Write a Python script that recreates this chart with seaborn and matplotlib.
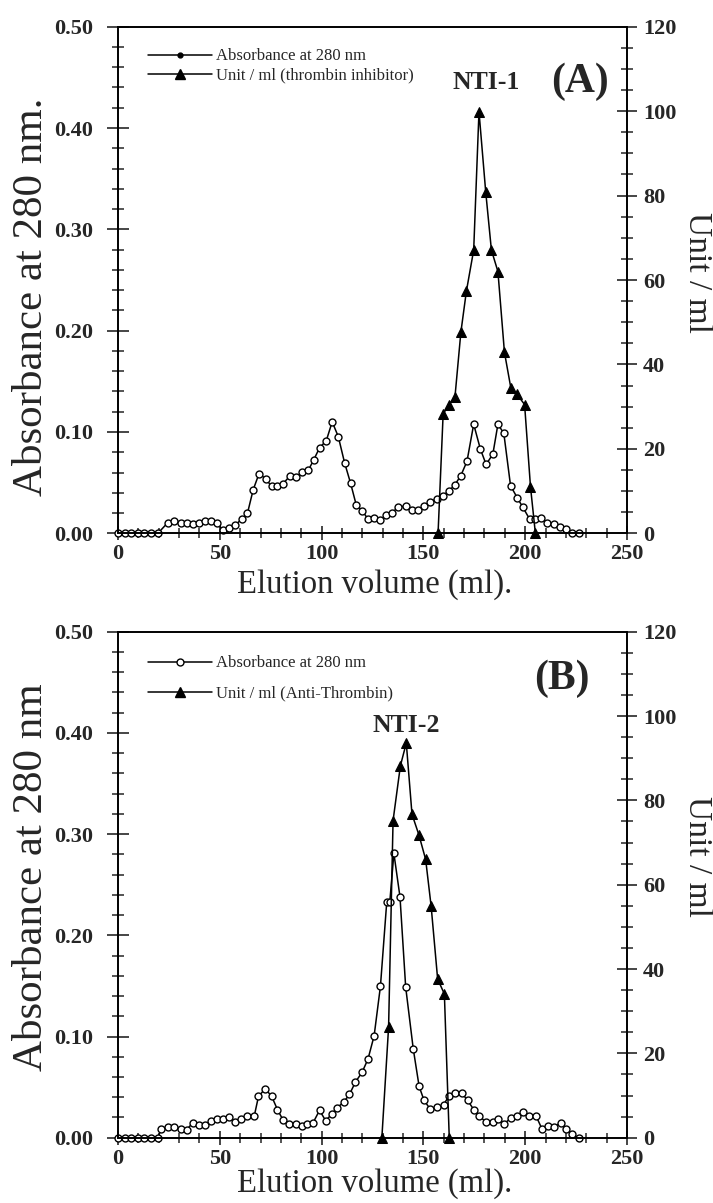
#!/usr/bin/env python3
"""
Gel filtration elution profiles of the thrombin inhibitors NTI-1 (A) and NTI-2 (B)
"""

import matplotlib
matplotlib.use("Agg")
import matplotlib.pyplot as plt
from matplotlib.lines import Line2D
import seaborn as sns

# ---- data ----
# Panel A: absorbance at 280 nm
a_abs_ml = [0, 3.3, 6.5, 9.8, 13, 16.3, 19.6, 24.5, 27.7, 31, 33.8, 36.7, 39.6, 42.9, 45.7,
            48.5, 51.4, 54.3, 57.6, 60.8, 63.6, 66.4, 69.3, 72.6, 75.4, 78.3, 81.1, 84.3,
            87.3, 90.5, 93.5, 96.2, 99, 102.3, 105.2, 108.2, 111.3, 114.2, 117, 119.9,
            122.8, 125.8, 128.9, 131.6, 134.6, 137.4, 141.5, 144.5, 147.5, 150.3, 153.3,
            156.6, 159.4, 162.7, 165.5, 168.4, 171.4, 174.7, 178, 180.8, 184.1, 186.6,
            189.5, 192.8, 196.1, 198.9, 202.2, 205, 207.9, 210.9, 214.1, 216.9, 220.2,
            223, 226.2]
a_abs = [0, 0, 0, 0, 0, 0, 0, 0.0106, 0.0126, 0.0106, 0.0106, 0.0093, 0.0106, 0.0126, 0.0126,
         0.0106, 0.0033, 0.005, 0.0083, 0.0139, 0.0199, 0.043, 0.059, 0.0536, 0.0464, 0.047,
         0.049, 0.0563, 0.0556, 0.0603, 0.0623, 0.0728, 0.0844, 0.0914, 0.110, 0.0954,
         0.0695, 0.0497, 0.0281, 0.0225, 0.0139, 0.0149, 0.0132, 0.0182, 0.0199, 0.0258,
         0.027, 0.023, 0.023, 0.027, 0.031, 0.034, 0.037, 0.042, 0.048, 0.057, 0.071,
         0.1076, 0.083, 0.068, 0.078, 0.1076, 0.0987, 0.047, 0.035, 0.0255, 0.0139, 0.0139,
         0.015, 0.0099, 0.0093, 0.006, 0.004, 0.0007, 0]
# Panel A: thrombin inhibitor activity (unit / ml)
a_unit_ml = [157.2, 159.7, 162.7, 165.5, 168.4, 171.1, 174.7, 177.3, 180.6, 183.4, 186.6,
             189.8, 193, 196, 199.7, 202.6, 205]
a_unit = [0, 28.3, 30.5, 32.3, 47.6, 57.3, 67.1, 99.9, 80.9, 67.1, 62, 42.9, 34.3, 32.9,
          30.5, 11, 0]

# Panel B: absorbance at 280 nm
b_abs_ml = [0, 3.3, 6.5, 9.8, 13, 16.3, 19.6, 21.2, 24.5, 27.7, 31, 33.8, 36.7, 39.6, 42.9,
            45.7, 48.5, 51.7, 54.6, 57.6, 60.4, 63.6, 66.9, 69, 72.3, 75.5, 78.3, 81.1, 84,
            87.3, 90.2, 93, 95.8, 99, 102, 104.9, 107.7, 110.9, 113.7, 116.6, 119.9, 122.8,
            125.8, 128.9, 132, 133.5, 135.5, 138.5, 141.3, 145, 147.9, 150.3, 153.3, 156.9,
            159.9, 162.7, 165.5, 168.8, 171.7, 174.7, 177.5, 180.8, 184, 186.8, 189.8,
            193.1, 196.1, 198.8, 202.1, 205.4, 208.2, 211.2, 214.1, 217.4, 220.2, 223, 226.3]
b_abs = [0, 0, 0, 0, 0, 0, 0, 0.009, 0.0108, 0.0108, 0.009, 0.008, 0.0147, 0.0124, 0.0124,
         0.0167, 0.018, 0.018, 0.020, 0.0157, 0.018, 0.0219, 0.0212, 0.0408, 0.0484, 0.0408,
         0.0278, 0.0173, 0.0134, 0.0134, 0.0114, 0.014, 0.0147, 0.0271, 0.0167, 0.0232,
         0.0297, 0.0353, 0.0428, 0.0549, 0.0647, 0.0778, 0.1007, 0.1497, 0.233, 0.233,
         0.281, 0.238, 0.1487, 0.088, 0.0507, 0.037, 0.0284, 0.0304, 0.0327, 0.0415, 0.0441,
         0.0441, 0.037, 0.0278, 0.0212, 0.0154, 0.0154, 0.018, 0.014, 0.0196, 0.0219,
         0.0252, 0.0212, 0.0212, 0.0088, 0.0114, 0.0108, 0.0147, 0.0088, 0.0033, 0]
# Panel B: anti-thrombin activity (unit / ml)
b_unit_ml = [129.6, 132.9, 135.1, 138.7, 141.6, 144.4, 147.8, 151.1, 153.8, 157, 160.3, 162.7]
b_unit = [0, 26.2, 75.2, 88.2, 93.6, 76.7, 71.8, 66, 54.9, 37.6, 34.1, 0]

# ---- axis ticks ----
x_ticks = [0, 50, 100, 150, 200, 250]
x_ticklabels = ['0', '50', '100', '150', '200', '250']
y_ticks = [0.0, 0.1, 0.2, 0.3, 0.4, 0.5]
y_ticklabels = ['0.00', '0.10', '0.20', '0.30', '0.40', '0.50']
u_ticks = [0, 20, 40, 60, 80, 100, 120]
u_ticklabels = ['0', '20', '40', '60', '80', '100', '120']

sns.set_style("ticks")
plt.rcParams['font.family'] = ['Liberation Serif', 'DejaVu Serif']

W, H = 713, 1203
fig = plt.figure(figsize=(W / 100, H / 100), dpi=100)


def draw_panel(top_px, bottom_px, abs_ml, abs_vals, unit_ml, unit_vals, ylabel,
               legend_labels, abs_legend_marker, legend_top, label_spacing, tag, tag_xy,
               peak, peak_xy, ylab_y, ulab_y, xlab_y):
    left_px, right_px = 118, 627
    ax = fig.add_axes([left_px / W, 1 - bottom_px / H,
                       (right_px - left_px) / W, (bottom_px - top_px) / H])
    line_kw = dict(color='black', lw=1.1, sort=False, estimator=None, clip_on=False)
    sns.lineplot(x=abs_ml, y=abs_vals, ax=ax, marker='o', markersize=5,
                 markerfacecolor='white', markeredgecolor='black', markeredgewidth=1.0,
                 **line_kw)
    ax.set_xlim(0, 250)
    ax.set_ylim(0, 0.5)

    ax2 = ax.twinx()
    sns.lineplot(x=unit_ml, y=unit_vals, ax=ax2, marker='^', markersize=7,
                 markerfacecolor='black', markeredgecolor='black', **line_kw)
    ax2.set_ylim(0, 120)

    # ticks
    ax.set_xticks(x_ticks)
    ax.set_xticklabels(x_ticklabels, fontweight='bold')
    ax.set_xticks(range(0, 251, 10), minor=True)
    ax.set_yticks(y_ticks)
    ax.set_yticklabels(y_ticklabels, fontweight='bold')
    ax.set_yticks([v / 100 for v in range(0, 51, 2)], minor=True)
    ax2.set_yticks(u_ticks)
    ax2.set_yticklabels(u_ticklabels, fontweight='bold')
    ax2.set_yticks(range(0, 121, 5), minor=True)

    ax.tick_params(axis='x', which='major', direction='inout', length=10, width=1.2,
                   labelsize=16, pad=3)
    ax.tick_params(axis='x', which='minor', direction='inout', length=7, width=1.1)
    ax.tick_params(axis='y', which='major', direction='inout', length=16, width=1.2,
                   labelsize=16, pad=10)
    ax.tick_params(axis='y', which='minor', direction='inout', length=8, width=1.1)
    ax2.tick_params(axis='y', which='major', direction='inout', length=15, width=1.2,
                    labelsize=16, pad=4)
    ax2.tick_params(axis='y', which='minor', direction='inout', length=8, width=1.1)
    for a in (ax, ax2):
        for sp in a.spines.values():
            sp.set_linewidth(1.2)
            sp.set_color('black')

    # axis titles
    ax.set_ylabel(ylabel, fontsize=31, va='center')
    ax.yaxis.set_label_coords((32 - left_px) / (right_px - left_px), ylab_y)
    ax2.set_ylabel('Unit / ml', fontsize=24, rotation=270, va='center')
    ax2.yaxis.set_label_coords((697 - left_px) / (right_px - left_px), ulab_y)
    ax.set_xlabel('Elution volume (ml).', fontsize=23.5, va='center')
    ax.xaxis.set_label_coords(0.505, xlab_y)

    # annotations
    ax.text(tag_xy[0], tag_xy[1], tag, fontsize=30, fontweight='bold',
            ha='center', va='center')
    ax.text(peak_xy[0], peak_xy[1], peak, fontsize=18.5, fontweight='bold',
            ha='center', va='center')

    # legend
    handles = [Line2D([], [], color='black', lw=1.1, **abs_legend_marker),
               Line2D([], [], color='black', lw=1.1, marker='^', markersize=7)]
    ax2.legend(handles, legend_labels, loc='upper left',
               bbox_to_anchor=(30 / (right_px - left_px), legend_top), frameon=False,
               fontsize=12, handlelength=3.85, handletextpad=0.25,
               labelspacing=label_spacing, borderpad=0, borderaxespad=0)
    return ax, ax2


draw_panel(26.7, 533.3, a_abs_ml, a_abs, a_unit_ml, a_unit, 'Absorbance at 280 nm.',
           ['Absorbance at 280 nm', 'Unit / ml (thrombin inhibitor)'],
           dict(marker='o', markersize=3.5, markerfacecolor='black'), 0.957, 0.2,
           '(A)', (226.7, 0.4455), 'NTI-1', (180.8, 0.4445), 0.466, 0.514, -0.102)

draw_panel(631.7, 1137.7, b_abs_ml, b_abs, b_unit_ml, b_unit, 'Absorbance at 280 nm',
           ['Absorbance at 280 nm', 'Unit / ml (Anti-Thrombin)'],
           dict(marker='o', markersize=5, markerfacecolor='white',
                markeredgecolor='black'), 0.953, 0.85,
           '(B)', (218, 0.4538), 'NTI-2', (141.6, 0.407), 0.515, 0.555, -0.09)

fig.savefig('out.png', dpi=100)
